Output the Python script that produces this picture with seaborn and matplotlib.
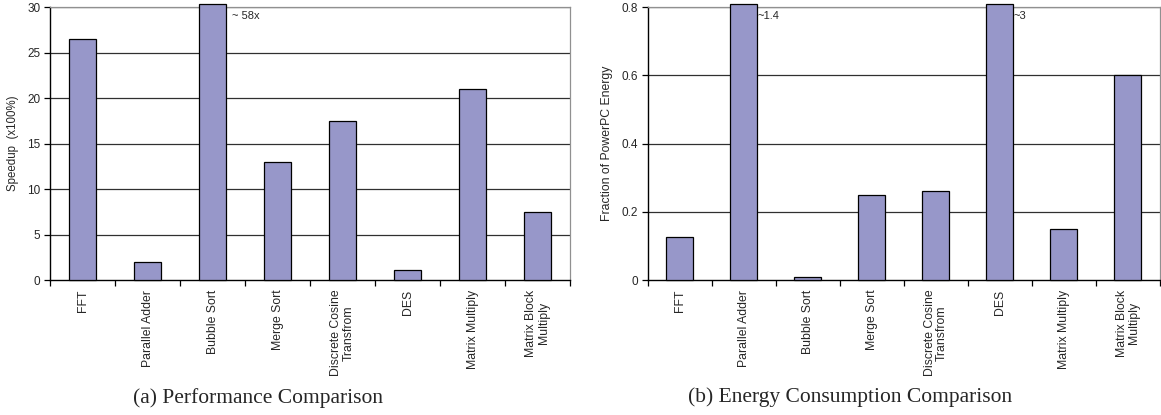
import numpy as np
import pandas as pd
import matplotlib
matplotlib.use("Agg")
import matplotlib.pyplot as plt
import seaborn as sns

# benchmark names (same order in both panels)
benchmarks = ["FFT", "Parallel Adder", "Bubble Sort", "Merge Sort",
              "Discrete Cosine\nTransfrom", "DES", "Matrix Multiply",
              "Matrix Block\nMultiply"]

# (a) speedup, bars clipped at the top of the axis are annotated
speedup = [26.5, 2.0, 30.3, 13.0, 17.5, 1.1, 21.0, 7.5]
speedup_notes = {2: "~ 58x"}

# (b) fraction of PowerPC energy
energy = [0.125, 0.81, 0.01, 0.25, 0.26, 0.81, 0.15, 0.60]
energy_notes = {1: "~1.4", 5: "~3"}

BAR = "#9797c9"

sns.set_style("white")
plt.rcParams["font.family"] = ["Liberation Sans", "DejaVu Sans"]

fig = plt.figure(figsize=(11.61, 4.15), dpi=100)
ax1 = fig.add_axes([0.0431, 0.325, 0.448, 0.658])
ax2 = fig.add_axes([0.558, 0.325, 0.441, 0.658])


def panel(ax, vals, ymax, step, ylabel, notes, fmt, note_dx, ylab_size):
    df = pd.DataFrame({"bench": benchmarks, "val": vals})
    sns.barplot(data=df, x="bench", y="val", color=BAR, saturation=1,
                width=0.42, edgecolor="black", linewidth=0.9, ax=ax,
                zorder=3)
    for p in ax.patches:
        p.set_clip_on(False)
    ax.set_xlim(-0.5, len(benchmarks) - 0.5)
    ax.set_ylim(0, ymax)
    yt = np.arange(0, ymax + step / 2, step)
    ax.set_yticks(yt)
    ax.set_yticklabels([fmt(v) for v in yt], fontsize=8.5)
    for v in yt[1:]:
        ax.axhline(v, color="#303030", lw=0.9, zorder=1)
    # category boundaries get the ticks, labels sit at centres
    ax.set_xticks(np.arange(-0.5, len(benchmarks)), minor=False)
    ax.set_xticklabels([])
    ax.set_xticks(np.arange(len(benchmarks)), minor=True)
    ax.set_xticklabels(benchmarks, minor=True, rotation=90, fontsize=8.8,
                       va="top", ha="center", linespacing=1.05)
    ax.tick_params(axis="x", which="major", direction="out", length=4,
                   width=0.9, color="black", bottom=True)
    ax.tick_params(axis="x", which="minor", length=0, pad=7)
    ax.tick_params(axis="y", direction="out", length=4, width=0.9,
                   color="black", left=True, pad=3)
    ax.set_xlabel("")
    ax.set_ylabel(ylabel, fontsize=ylab_size, labelpad=6)
    for s in ["top", "right"]:
        ax.spines[s].set_color("#909090")
        ax.spines[s].set_linewidth(0.9)
    for s in ["left", "bottom"]:
        ax.spines[s].set_color("black")
        ax.spines[s].set_linewidth(1.0)
    for i, txt in notes.items():
        ax.annotate(txt, (i + 0.21, ymax), xytext=(note_dx, -3),
                    textcoords="offset points", fontsize=8,
                    ha="left", va="top")


panel(ax1, speedup, 30, 5, "Speedup  (x100%)", speedup_notes,
      lambda v: f"{v:.0f}", 4, 8.3)
panel(ax2, energy, 0.8, 0.2, "Fraction of PowerPC Energy", energy_notes,
      lambda v: "0" if v == 0 else f"{v:.1f}", 0.5, 8.8)

fig.text(0.222, 0.042, "(a) Performance Comparison", fontsize=15.5,
         family="Liberation Serif", ha="center", va="center")
fig.text(0.732, 0.042, "(b) Energy Consumption Comparison", fontsize=15.5,
         family="Liberation Serif", ha="center", va="center")

fig.savefig("out.png", dpi=100)
